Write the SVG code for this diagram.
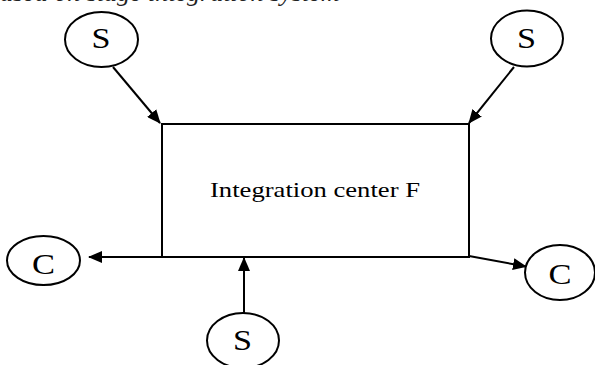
<svg xmlns="http://www.w3.org/2000/svg" width="595" height="365" viewBox="0 0 595 365">
  <style>
    .node { fill: #ffffff; stroke: #000000; stroke-width: 2; }
    .lbl { font-family: "Liberation Serif", "Times New Roman", serif; fill: #000000; }
    .big { font-size: 30px; text-anchor: middle; }
    .box-lbl { font-size: 21px; text-anchor: middle; }
    .edge { fill: none; stroke: #000000; stroke-width: 2; marker-end: url(#head); }
    .caption { font-family: "Liberation Serif", "Times New Roman", serif; font-style: italic; font-size: 26px; fill: #222222; }
  </style>
  <defs>
    <marker id="head" viewBox="0 0 14 12" refX="13" refY="6" markerWidth="14" markerHeight="12" markerUnits="userSpaceOnUse" orient="auto">
      <path d="M0,0 L14,6 L0,12 z" fill="#000000"/>
    </marker>
  </defs>

  <!-- caption line running off the top edge -->
  <text class="caption" x="-13" y="1">based on stage integration system</text>

  <!-- central integration box -->
  <g id="center-F">
    <rect class="node" x="162" y="124" width="307" height="133"/>
    <text class="lbl box-lbl" x="315" y="197" textLength="210" lengthAdjust="spacingAndGlyphs">Integration  center F</text>
  </g>

  <!-- suppliers -->
  <g id="S-top-left">
    <ellipse class="node" cx="101.5" cy="39.5" rx="36.5" ry="27.5"/>
    <text class="lbl big" x="101" y="48" textLength="19" lengthAdjust="spacingAndGlyphs">S</text>
  </g>
  <g id="S-top-right">
    <ellipse class="node" cx="527" cy="38.5" rx="36" ry="28"/>
    <text class="lbl big" x="526.5" y="48" textLength="19" lengthAdjust="spacingAndGlyphs">S</text>
  </g>
  <g id="S-bottom">
    <ellipse class="node" cx="243" cy="340.5" rx="36" ry="27.5"/>
    <text class="lbl big" x="242.5" y="350" textLength="19" lengthAdjust="spacingAndGlyphs">S</text>
  </g>

  <!-- customers -->
  <g id="C-left">
    <ellipse class="node" cx="43.5" cy="260.5" rx="36.5" ry="24.5"/>
    <text class="lbl big" x="43.5" y="274" textLength="23" lengthAdjust="spacingAndGlyphs">C</text>
  </g>
  <g id="C-right">
    <ellipse class="node" cx="560" cy="272.5" rx="35" ry="27.5"/>
    <text class="lbl big" x="560" y="284" textLength="23" lengthAdjust="spacingAndGlyphs">C</text>
  </g>

  <!-- flows -->
  <g id="connectors">
    <path class="edge" d="M113,67 L160,123"/>
    <path class="edge" d="M514,67 L469,123"/>
    <path class="edge" d="M244,313 L244,258"/>
    <path class="edge" d="M162,257 L89,257"/>
    <path class="edge" d="M469,256 L526,266.5"/>
  </g>
</svg>
